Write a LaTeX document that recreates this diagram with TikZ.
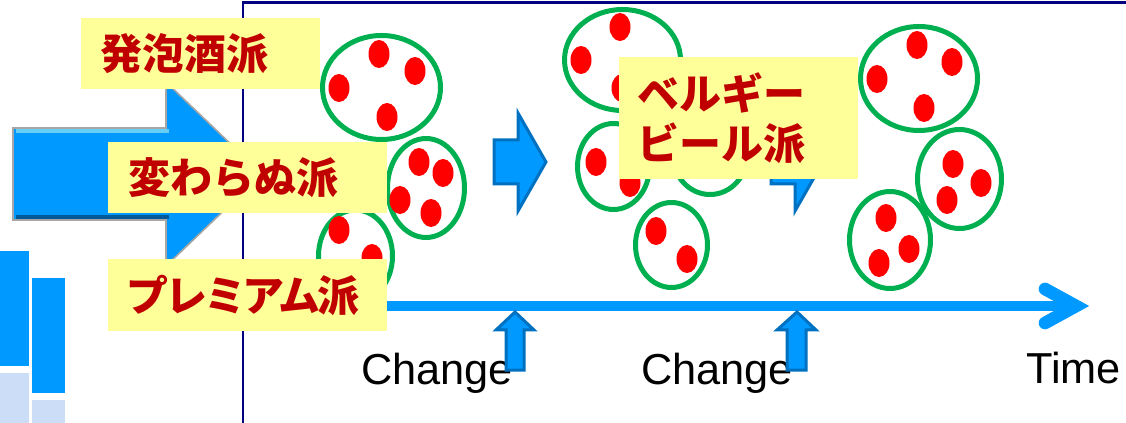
\documentclass[tikz,border=0pt]{standalone}
\usepackage{fontspec}
\setmainfont{Liberation Sans}
\newfontfamily\jpfont{Noto Sans CJK JP}
\usetikzlibrary{positioning}
\definecolor{framenavy}{HTML}{000080}
\definecolor{ringgreen}{HTML}{00B050}
\definecolor{dotred}{HTML}{FF0000}
\definecolor{lblyellow}{HTML}{FFFF99}
\definecolor{lbltext}{HTML}{C00000}
\definecolor{arrowblue}{HTML}{0099FF}
\definecolor{arrowedge}{HTML}{0070C0}
\definecolor{paleblue}{HTML}{CCDDF8}
\begin{document}
\begin{tikzpicture}[x=0.75pt,y=-0.75pt]
	\tikzstyle{every node}+=[inner sep=0pt]
	\tikzstyle{ring}=[draw=ringgreen, line width=3.75pt]
	\tikzstyle{bead}=[fill=dotred]
	\tikzstyle{lblbox}=[fill=lblyellow, anchor=north west]
	\tikzstyle{jplabel}=[text=lbltext, font=\jpfont\bfseries\fontsize{31.5}{37.5}\selectfont, align=left]
	\tikzstyle{stepArrow}=[fill=arrowblue, draw=arrowedge, line width=2.25pt, line join=miter]
	\tikzstyle{timeline}=[draw=arrowblue, line width=7.5pt]
	\tikzstyle{enlabel}=[font=\fontsize{32.5}{38}\selectfont, anchor=base west]
	\useasboundingbox (0,0) rectangle (1126,423);
	\draw [framenavy, line width=1.9pt] (243,423) -- (243,2.5) -- (1126,2.5);
	\fill [arrowblue] (0,251) rectangle (29,366);
	\fill [paleblue] (0,373) rectangle (29,423);
	\fill [arrowblue] (32,278) rectangle (65,393);
	\fill [paleblue] (32,400) rectangle (65,423);
	\draw [fill=arrowblue, draw=gray!70, line width=1.2pt] (13,128) -- (166,128) -- (166,82) -- (262,174) -- (166,266) -- (166,220) -- (13,220) -- cycle;
	\draw [cyan!60, line width=2.5pt] (16,131) -- (169,131);
	\draw [arrowedge!80!black, line width=2.5pt] (16,217) -- (169,217);
	\draw [ring] (381.5,87.5) ellipse [x radius=59, y radius=52];
	\fill [bead] (379,54) ellipse [x radius=10.5, y radius=14];
	\fill [bead] (415,71) ellipse [x radius=10.5, y radius=14];
	\fill [bead] (339,88) ellipse [x radius=10.5, y radius=14];
	\fill [bead] (387,117) ellipse [x radius=10.5, y radius=14];
	\draw [ring] (426,188) ellipse [x radius=38.5, y radius=49.5];
	\fill [bead] (419,162) ellipse [x radius=10.5, y radius=14];
	\fill [bead] (443,173) ellipse [x radius=10.5, y radius=14];
	\fill [bead] (400,200) ellipse [x radius=10.5, y radius=14];
	\fill [bead] (431,213) ellipse [x radius=10.5, y radius=14];
	\draw [ring] (355.5,256) ellipse [x radius=37, y radius=46];
	\fill [bead] (339,230) ellipse [x radius=10.5, y radius=14];
	\fill [bead] (372,258) ellipse [x radius=10.5, y radius=14];
	\draw [stepArrow] (494,140) -- (518,140) -- (518,113) -- (546,162) -- (518,211) -- (518,184) -- (494,184) -- cycle;
	\draw [ring] (622.5,60) ellipse [x radius=58, y radius=50.5];
	\fill [bead] (620,27) ellipse [x radius=10.5, y radius=14];
	\fill [bead] (581,60) ellipse [x radius=10.5, y radius=14];
	\fill [bead] (622,88) ellipse [x radius=10.5, y radius=14];
	\draw [ring] (613.5,166.5) ellipse [x radius=36, y radius=43];
	\fill [bead] (596,162) ellipse [x radius=10.5, y radius=14];
	\fill [bead] (630,183) ellipse [x radius=10.5, y radius=14];
	\draw [ring] (710,154) ellipse [x radius=37.5, y radius=40.5];
	\draw [ring] (671.5,245) ellipse [x radius=36, y radius=42.5];
	\fill [bead] (656,231) ellipse [x radius=10.5, y radius=14];
	\fill [bead] (687,259) ellipse [x radius=10.5, y radius=14];
	\draw [stepArrow] (771,140) -- (795,140) -- (795,113) -- (823,162) -- (795,211) -- (795,184) -- (771,184) -- cycle;
	\draw [ring] (919,78.5) ellipse [x radius=58.5, y radius=52];
	\fill [bead] (917,45) ellipse [x radius=10.5, y radius=14];
	\fill [bead] (952,62) ellipse [x radius=10.5, y radius=14];
	\fill [bead] (877,79) ellipse [x radius=10.5, y radius=14];
	\fill [bead] (924,108) ellipse [x radius=10.5, y radius=14];
	\draw [ring] (959.5,179) ellipse [x radius=42, y radius=49.5];
	\fill [bead] (953,164) ellipse [x radius=10.5, y radius=14];
	\fill [bead] (981,183) ellipse [x radius=10.5, y radius=14];
	\fill [bead] (947,200) ellipse [x radius=10.5, y radius=14];
	\draw [ring] (890,240) ellipse [x radius=40.5, y radius=48.5];
	\fill [bead] (886,218) ellipse [x radius=10.5, y radius=14];
	\fill [bead] (909,249) ellipse [x radius=10.5, y radius=14];
	\fill [bead] (879,263) ellipse [x radius=10.5, y radius=14];
	\coordinate (tlStart) at (380,306);
	\coordinate (tlTip) at (1076,306);
	\coordinate (tlBarbUp) at (1045,289);
	\coordinate (tlBarbDown) at (1045,323);
	\draw [timeline] (tlStart) -- (tlTip);
	\draw [timeline, line width=9.5pt, line cap=round, line join=miter] (tlBarbUp) -- (tlTip) -- (tlBarbDown);
	\node [enlabel] (change1) at (361,384) {Change};
	\node [enlabel] (change2) at (641,384) {Change};
	\node [enlabel] (timeLbl) at (1026,383) {Time};
	\draw [stepArrow] (515,312) -- (534,330) -- (524,330) -- (524,370) -- (506,370) -- (506,330) -- (496,330) -- cycle;
	\draw [stepArrow] (797,312) -- (816,330) -- (806,330) -- (806,370) -- (787,370) -- (787,330) -- (777,330) -- cycle;
	\node [lblbox, minimum width=179.25pt, minimum height=53.25pt] (happoBox) at (81,18) {};
	\node [jplabel, right=14.5pt of happoBox.west] (happo) {発泡酒派};
	\node [lblbox, minimum width=209.25pt, minimum height=53.25pt] (kawaranuBox) at (108,142) {};
	\node [jplabel, right=15pt of kawaranuBox.west] (kawaranu) {変わらぬ派};
	\node [lblbox, minimum width=209.25pt, minimum height=54pt] (premiumBox) at (108,259) {};
	\node [jplabel, font=\jpfont\bfseries\fontsize{31.5}{37.5}\selectfont\addfontfeature{LetterSpace=-8}, right=14pt of premiumBox.west] (premium) {プレミアム派};
	\node [lblbox, minimum width=179.25pt, minimum height=91.5pt] (belgiumBox) at (619,57) {};
	\node [jplabel, right=14pt of belgiumBox.west] (belgium) {ベルギー\\ビール派};
\end{tikzpicture}
\end{document}
